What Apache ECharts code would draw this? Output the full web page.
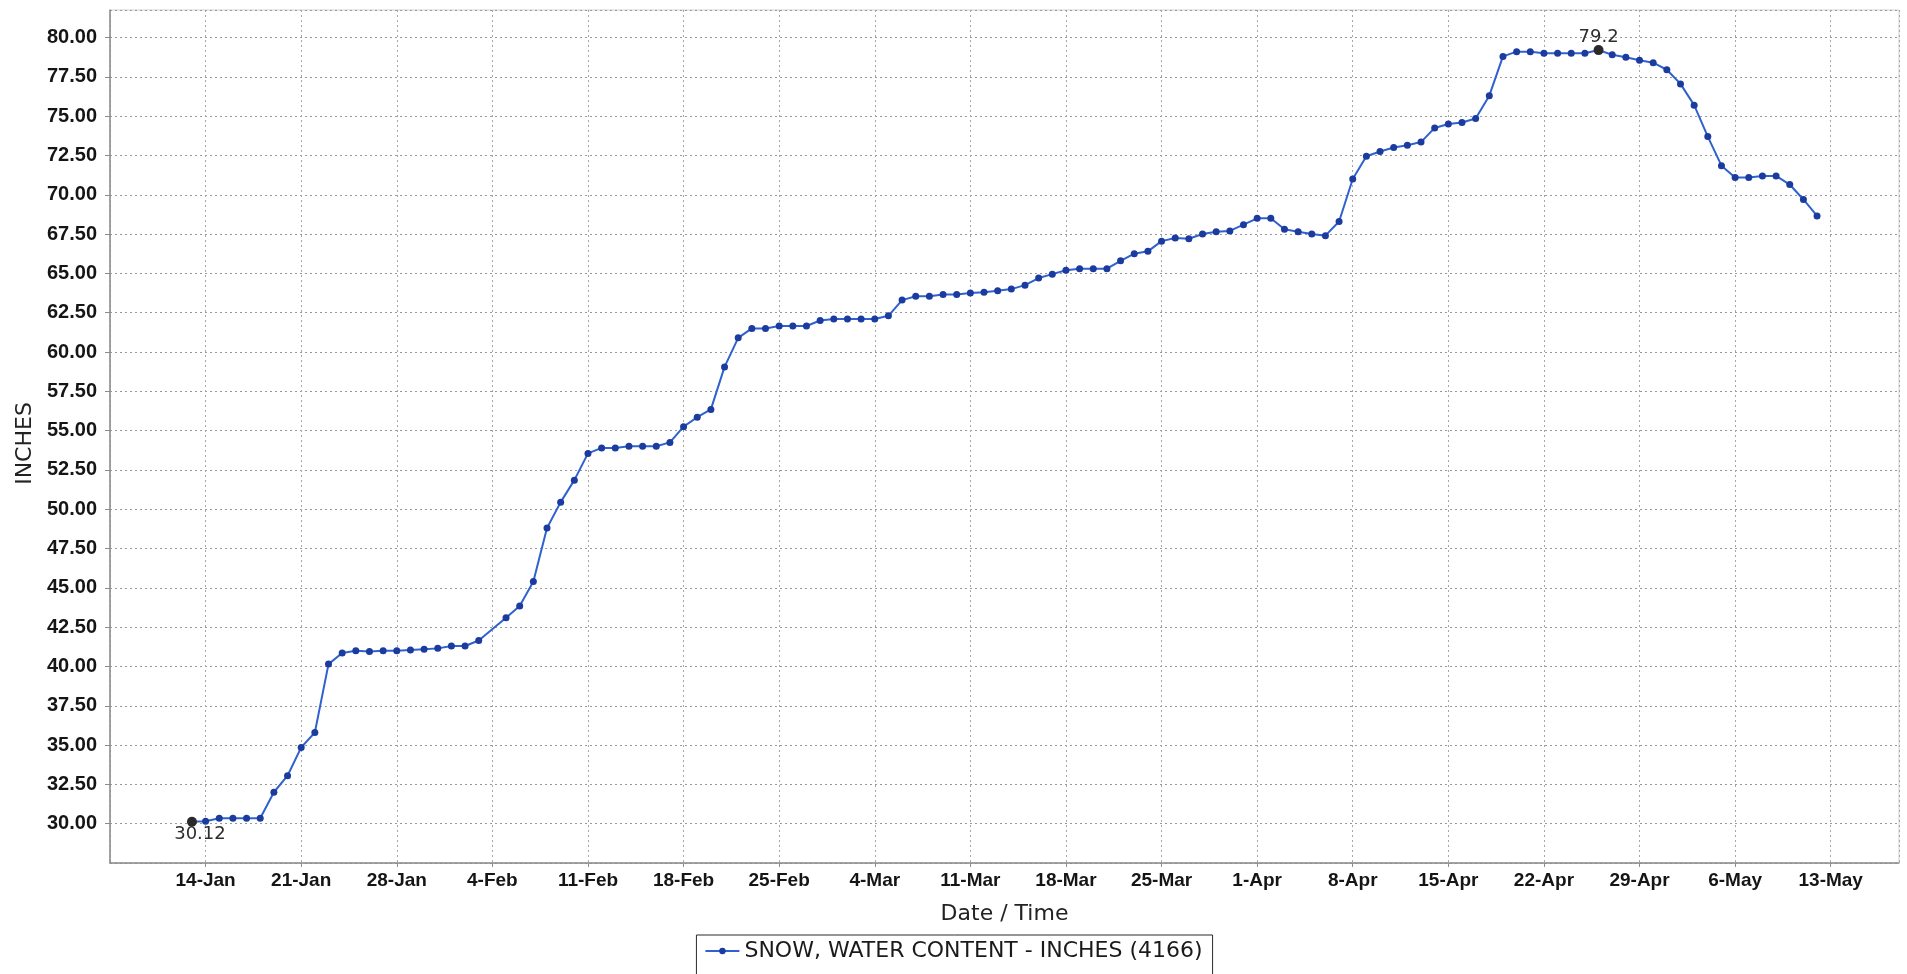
<!DOCTYPE html>
<html>
<head>
<meta charset="utf-8">
<title>Snow water content</title>
<script src="https://cdn.jsdelivr.net/npm/echarts@6/dist/echarts.min.js"></script>
<style>
  html, body { margin: 0; padding: 0; background: #fff; }
  #chart { width: 1907px; height: 974px; }
</style>
</head>
<body>
<div id="chart"></div>
<script>
// Daily snow water content readings (inches); 4 Feb has no reading.
const SERIES_NAME = 'SNOW, WATER CONTENT - INCHES (4166)';

const dates = [
  '2019-01-13','2019-01-14','2019-01-15','2019-01-16','2019-01-17','2019-01-18','2019-01-19',
  '2019-01-20','2019-01-21','2019-01-22','2019-01-23','2019-01-24','2019-01-25','2019-01-26',
  '2019-01-27','2019-01-28','2019-01-29','2019-01-30','2019-01-31',
  '2019-02-01','2019-02-02','2019-02-03','2019-02-05','2019-02-06','2019-02-07','2019-02-08',
  '2019-02-09','2019-02-10','2019-02-11','2019-02-12','2019-02-13','2019-02-14','2019-02-15',
  '2019-02-16','2019-02-17','2019-02-18','2019-02-19','2019-02-20','2019-02-21','2019-02-22',
  '2019-02-23','2019-02-24','2019-02-25','2019-02-26','2019-02-27','2019-02-28',
  '2019-03-01','2019-03-02','2019-03-03','2019-03-04','2019-03-05','2019-03-06','2019-03-07',
  '2019-03-08','2019-03-09','2019-03-10','2019-03-11','2019-03-12','2019-03-13','2019-03-14',
  '2019-03-15','2019-03-16','2019-03-17','2019-03-18','2019-03-19','2019-03-20','2019-03-21',
  '2019-03-22','2019-03-23','2019-03-24','2019-03-25','2019-03-26','2019-03-27','2019-03-28',
  '2019-03-29','2019-03-30','2019-03-31',
  '2019-04-01','2019-04-02','2019-04-03','2019-04-04','2019-04-05','2019-04-06','2019-04-07',
  '2019-04-08','2019-04-09','2019-04-10','2019-04-11','2019-04-12','2019-04-13','2019-04-14',
  '2019-04-15','2019-04-16','2019-04-17','2019-04-18','2019-04-19','2019-04-20','2019-04-21',
  '2019-04-22','2019-04-23','2019-04-24','2019-04-25','2019-04-26','2019-04-27','2019-04-28',
  '2019-04-29','2019-04-30',
  '2019-05-01','2019-05-02','2019-05-03','2019-05-04','2019-05-05','2019-05-06','2019-05-07',
  '2019-05-08','2019-05-09','2019-05-10','2019-05-11','2019-05-12'
];

const swe = [
  // Jan 13 - Jan 31
  30.12, 30.15, 30.35, 30.35, 30.35, 30.35, 32.0,
  33.05, 34.85, 35.8, 40.15, 40.85, 41.0, 40.95,
  41.0, 41.0, 41.05, 41.1, 41.15,
  // Feb 1 - Feb 28 (no 4 Feb)
  41.3, 41.3, 41.65, 43.1, 43.85, 45.4, 48.8,
  50.45, 51.85, 53.55, 53.9, 53.9, 54.0, 54.0,
  54.0, 54.25, 55.25, 55.85, 56.35, 59.05, 60.9,
  61.5, 61.5, 61.65, 61.65, 61.65, 62.0,
  // Mar
  62.1, 62.1, 62.1, 62.1, 62.3, 63.3, 63.55,
  63.55, 63.65, 63.65, 63.75, 63.8, 63.9, 64.0,
  64.25, 64.7, 64.95, 65.2, 65.3, 65.3, 65.3,
  65.8, 66.25, 66.4, 67.05, 67.25, 67.2, 67.5,
  67.65, 67.7, 68.1,
  // Apr
  68.5, 68.5, 67.8, 67.65, 67.5, 67.4, 68.3,
  71.0, 72.45, 72.75, 73.0, 73.15, 73.35, 74.25,
  74.5, 74.6, 74.85, 76.3, 78.8, 79.1, 79.1,
  79.0, 79.0, 79.0, 79.0, 79.2, 78.9, 78.75,
  78.55, 78.4,
  // May
  77.95, 77.05, 75.7, 73.7, 71.85, 71.1, 71.1,
  71.2, 71.2, 70.65, 69.7, 68.65
];

const monthNames = ['Jan','Feb','Mar','Apr','May','Jun','Jul','Aug','Sep','Oct','Nov','Dec'];
const yTickStart = 27.5;
const yTickStep = 2.5;
const yTop = 81.75;
const xStart = '2019-01-07';
const xEnd = '2019-05-18';

const DAY = 86400000;
const WEEK = 7 * DAY;
const toTime = d => Date.parse(d + 'T00:00:00Z');
const points = dates.map((d, i) => [toTime(d), swe[i]]);

const TEXT_FONT = 'DejaVu Sans';
const TICK_FONT = 'Liberation Sans';

const chart = echarts.init(document.getElementById('chart'), null, { renderer: 'canvas' });

chart.setOption({
  animation: false,
  backgroundColor: '#ffffff',
  grid: {
    left: 110, right: 8, top: 10, bottom: 111,
    show: true, backgroundColor: '#ffffff',
    borderColor: '#d0d0d0', borderWidth: 1
  },
  legend: {
    data: [SERIES_NAME],
    left: 'center', top: 935,
    padding: [5, 10, 14, 8],
    borderColor: '#2b2b2b', borderWidth: 1,
    backgroundColor: '#ffffff',
    itemWidth: 34, itemHeight: 8,
    textStyle: { fontFamily: TEXT_FONT, fontSize: 22, color: '#1a1a1a' }
  },
  xAxis: {
    type: 'value',
    min: toTime(xStart), max: toTime(xEnd), interval: WEEK,
    name: 'Date / Time', nameLocation: 'middle', nameGap: 40,
    nameTextStyle: { fontFamily: TEXT_FONT, fontSize: 22, color: '#222' },
    axisLine: { show: true, lineStyle: { color: '#8c8c8c', width: 1.5 } },
    axisTick: { show: true, length: 4, lineStyle: { color: '#8c8c8c' } },
    axisLabel: {
      margin: 8, showMinLabel: false, showMaxLabel: false,
      fontFamily: TICK_FONT, fontWeight: 'bold', fontSize: 19, color: '#151515',
      formatter: v => {
        const d = new Date(v);
        return d.getUTCDate() + '-' + monthNames[d.getUTCMonth()];
      }
    },
    splitLine: { show: true, lineStyle: { type: [2, 3], color: '#a6a6a6', width: 1 } }
  },
  yAxis: {
    type: 'value',
    min: yTickStart, max: yTop, interval: yTickStep,
    name: 'INCHES', nameLocation: 'middle', nameRotate: 90, nameGap: 74,
    nameTextStyle: { fontFamily: TEXT_FONT, fontSize: 22, color: '#222', padding: [0, 14, 0, 0] },
    axisLine: { show: true, lineStyle: { color: '#8c8c8c', width: 1.5 } },
    axisTick: { show: true, length: 5, lineStyle: { color: '#8c8c8c' } },
    axisLabel: {
      margin: 13, showMinLabel: false, showMaxLabel: false,
      fontFamily: TICK_FONT, fontWeight: 'bold', fontSize: 20, color: '#151515',
      formatter: v => v.toFixed(2)
    },
    splitLine: { show: true, lineStyle: { type: [2, 3], color: '#999999', width: 1 } }
  },
  series: [{
    name: SERIES_NAME,
    type: 'line',
    data: points,
    symbol: 'circle', symbolSize: 7, showAllSymbol: true,
    itemStyle: { color: '#1b3b9e' },
    lineStyle: { color: '#2f62cf', width: 2 },
    emphasis: { disabled: true },
    markPoint: {
      symbol: 'circle', symbolSize: 10,
      itemStyle: { color: '#2a2a2a' },
      label: { show: true, formatter: '{c}', fontFamily: TEXT_FONT, fontSize: 18, color: '#2e2e2e' },
      data: [
        { type: 'min', valueDim: 'y', label: { position: 'inside', offset: [8, 13] } },
        { type: 'max', valueDim: 'y', label: { position: 'inside', offset: [0, -13] } }
      ]
    }
  }]
});
</script>
</body>
</html>
